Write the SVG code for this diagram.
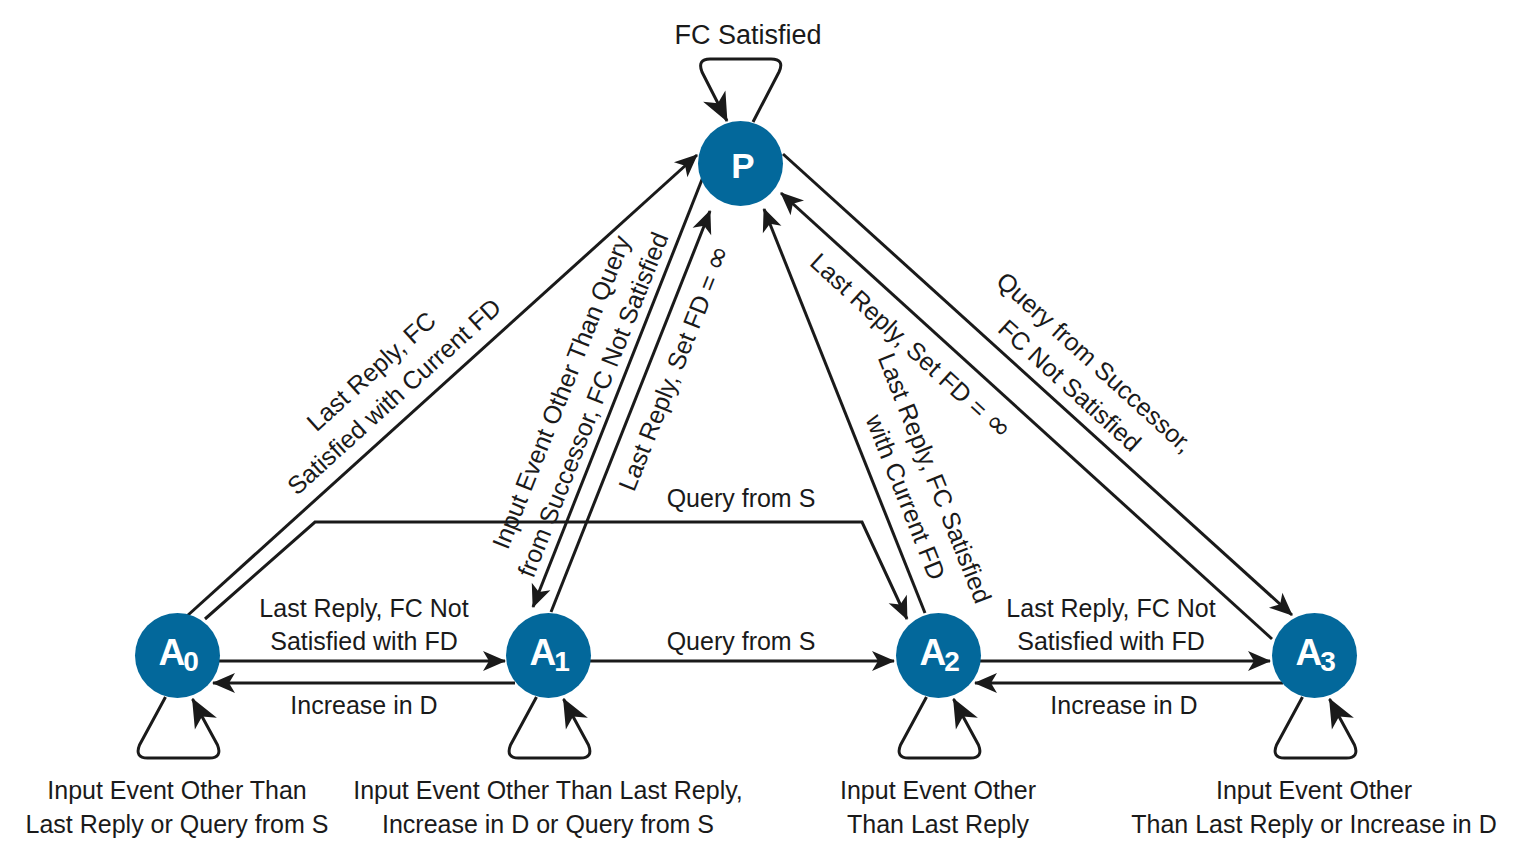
<svg xmlns="http://www.w3.org/2000/svg" width="1526" height="844" viewBox="0 0 1526 844">
<defs>
<style>
.lbl{font-family:"Liberation Sans",Arial,sans-serif;font-size:25px;fill:#1a1a1a;text-anchor:middle}
.inf{font-family:"DejaVu Sans",sans-serif;font-size:30px}
.edge{fill:none;stroke:#1a1a1a;stroke-width:3;marker-end:url(#ah)}
.loop{fill:none;stroke:#1a1a1a;stroke-width:3;stroke-linejoin:round;marker-end:url(#ahL)}
.node{fill:#03689b}
.nt{font-family:"Liberation Sans",Arial,sans-serif;font-weight:bold;font-size:37px;fill:#ffffff}
.sub{font-size:28px}
</style>
<marker id="ah" markerUnits="userSpaceOnUse" orient="auto" markerWidth="34" markerHeight="34" viewBox="-26 -17 34 34" refX="0" refY="0">
<path d="M1,0 L-22,-10 L-16,0 L-22,10 Z" fill="#1a1a1a"/>
</marker>
<marker id="ahL" markerUnits="userSpaceOnUse" orient="auto" markerWidth="40" markerHeight="40" viewBox="-32 -20 40 40" refX="0" refY="0">
<path d="M1,0 L-28,-12.5 L-20,0 L-28,12.5 Z" fill="#1a1a1a"/>
</marker>
</defs>
<rect width="1526" height="844" fill="#ffffff"/>
<g id="connectors">
<path class="edge" d="M187,616 L697,155"/>
<path class="edge" d="M205,619 L315,522 L862,522 L907,619"/>
<path class="edge" d="M703,177 L533,607"/>
<path class="edge" d="M551,612 L710,211"/>
<path class="edge" d="M925,613 L764,209"/>
<path class="edge" d="M1272,639 L781,193"/>
<path class="edge" d="M783,154 L1292,615"/>
<path class="edge" d="M219,661 L505,661"/>
<path class="edge" d="M515,683 L213,683"/>
<path class="edge" d="M590,661 L894,661"/>
<path class="edge" d="M980,661 L1270,661"/>
<path class="edge" d="M1283,683 L975,683"/>
<path class="loop" d="M753,122 L779,72 Q785,59 771,59 L710,59 Q697,59 702,72 L727,121"/>
<path class="loop" d="M165.5,697 L139.5,745 Q134.5,758 147.5,758 L209.5,758 Q222.5,758 217.5,745 L192.5,699"/>
<path class="loop" d="M536.5,697 L510.5,745 Q505.5,758 518.5,758 L580.5,758 Q593.5,758 588.5,745 L563.5,699"/>
<path class="loop" d="M926.5,697 L900.5,745 Q895.5,758 908.5,758 L970.5,758 Q983.5,758 978.5,745 L953.5,699"/>
<path class="loop" d="M1302.5,697 L1276.5,745 Q1271.5,758 1284.5,758 L1346.5,758 Q1359.5,758 1354.5,745 L1329.5,699"/>
</g>
<g id="edge-labels">
<text class="lbl" x="748" y="44" style="font-size:27px">FC Satisfied</text>
<text class="lbl" x="364" y="617">Last Reply, FC Not</text>
<text class="lbl" x="364" y="650">Satisfied with FD</text>
<text class="lbl" x="364" y="714">Increase in D</text>
<text class="lbl" x="741" y="507">Query from S</text>
<text class="lbl" x="741" y="650">Query from S</text>
<text class="lbl" x="1111" y="617">Last Reply, FC Not</text>
<text class="lbl" x="1111" y="650">Satisfied with FD</text>
<text class="lbl" x="1124" y="714">Increase in D</text>
<g transform="translate(371,371) rotate(-42.2)">
<text class="lbl" x="0" y="9">Last Reply, FC</text>
<text class="lbl" x="0" y="43">Satisfied with Current FD</text>
</g>
<g transform="translate(561,392) rotate(-68.4)">
<text class="lbl" x="0" y="9">Input Event Other Than Query</text>
<text class="lbl" x="0" y="43">from Successor, FC Not Satisfied</text>
</g>
<g transform="translate(674,368) rotate(-68.3)">
<text class="lbl" x="0" y="9">Last Reply, Set FD = <tspan class="inf">∞</tspan></text>
</g>
<g transform="translate(935,478) rotate(68.3)">
<text class="lbl" x="0" y="9">Last Reply, FC Satisfied</text>
<text class="lbl" x="7" y="43">with Current FD</text>
</g>
<g transform="translate(911,346) rotate(42.5)">
<text class="lbl" x="0" y="9">Last Reply, Set FD = <tspan class="inf">∞</tspan></text>
</g>
<g transform="translate(1095,362) rotate(42.2)">
<text class="lbl" x="0" y="9">Query from Successor,</text>
<text class="lbl" x="-3" y="43">FC Not Satisfied</text>
</g>
<text class="lbl" x="177" y="799">Input Event Other Than</text>
<text class="lbl" x="177" y="833">Last Reply or Query from S</text>
<text class="lbl" x="548" y="799">Input Event Other Than Last Reply,</text>
<text class="lbl" x="548" y="833">Increase in D or Query from S</text>
<text class="lbl" x="938" y="799">Input Event Other</text>
<text class="lbl" x="938" y="833">Than Last Reply</text>
<text class="lbl" x="1314" y="799">Input Event Other</text>
<text class="lbl" x="1314" y="833">Than Last Reply or Increase in D</text>
</g>
<g id="node-P">
<circle class="node" cx="740.5" cy="163.5" r="42.5"/>
<text class="nt" x="743" y="178" text-anchor="middle" style="font-size:35px">P</text>
</g>
<g id="node-A0">
<circle class="node" cx="177.5" cy="655.5" r="42.5"/>
<text class="nt" x="158.5" y="665">A<tspan class="sub" dx="-2" dy="6">0</tspan></text>
</g>
<g id="node-A1">
<circle class="node" cx="548.5" cy="655.5" r="42.5"/>
<text class="nt" x="529.5" y="665">A<tspan class="sub" dx="-2" dy="6">1</tspan></text>
</g>
<g id="node-A2">
<circle class="node" cx="938.5" cy="655.5" r="42.5"/>
<text class="nt" x="919.5" y="665">A<tspan class="sub" dx="-2" dy="6">2</tspan></text>
</g>
<g id="node-A3">
<circle class="node" cx="1314.5" cy="655.5" r="42.5"/>
<text class="nt" x="1295.5" y="665">A<tspan class="sub" dx="-2" dy="6">3</tspan></text>
</g>
</svg>
